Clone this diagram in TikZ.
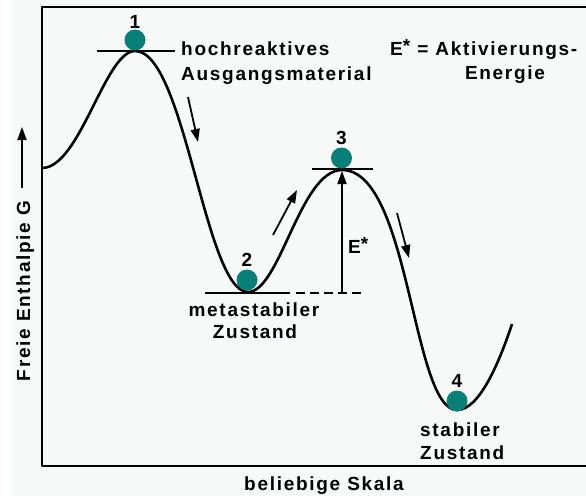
\documentclass[tikz,border=0pt]{standalone}
\usepackage{fontspec}
\setmainfont{Liberation Sans}[LetterSpace=9]
\usetikzlibrary{arrows.meta}
\definecolor{ballc}{RGB}{8,128,120}
\definecolor{bgc}{RGB}{248,249,249}
\begin{document}
\begin{tikzpicture}[x=1pt,y=-1pt, line join=round,
  lbl/.style={font=\fontsize{19}{25}\selectfont\bfseries, inner sep=0pt},
  axis/.style={line width=2.2pt},
  curve/.style={line width=2.6pt},
  level/.style={line width=2.2pt},
  flow/.style={line width=1.8pt, -{Triangle[length=13pt,width=9pt]}},
  ball/.style={circle, fill=ballc, minimum size=21pt, inner sep=0pt}]
\fill[white] (0,0) rectangle (586,496);
\fill[bgc] (12,0) rectangle (586,496);
\useasboundingbox (0,0) rectangle (586,496);
% axes
\draw[axis] (586,7) -- (42,7) -- (42,466) -- (586,466);
% energy curve
\draw[curve] (42,168) .. controls (80,168) and (105,51) .. (135,51)
  .. controls (185,51) and (205,292) .. (248,292)
  .. controls (280,292) and (300,170) .. (342,170)
  .. controls (410,170) and (412,410) .. (457,410)
  .. controls (480,410) and (500,360) .. (512,324);
% levels
\draw[level] (97,51) -- (175,51);
\draw[level] (205,293) -- (290,293);
\draw[level, dash pattern=on 9pt off 5pt] (296,293) -- (364,293);
\draw[level] (312,169) -- (373,169);
% balls
\node[ball] (b1) at (135,40) {};
\node[ball] (b2) at (247,280) {};
\node[ball] (b3) at (341.5,158) {};
\node[ball] (b4) at (457,401) {};
\node[lbl] (n1) at (135,21.5) {1};
\node[lbl] (n2) at (247,259.5) {2};
\node[lbl] (n3) at (341.5,137.5) {3};
\node[lbl] (n4) at (457,381) {4};
% texts
\node[lbl, anchor=base west] (t1a) at (181,55) {hochreaktives};
\node[lbl, anchor=base west] (t1b) at (181,80) {Ausgangsmaterial};
\node[lbl, anchor=base west] (ea) at (390,55) {E\raisebox{3pt}{*} = Aktivierungs-};
\node[lbl, anchor=base] (eb) at (505,79) {Energie};
\node[lbl, anchor=base] (t2a) at (254,316) {metastabiler};
\node[lbl, anchor=base] (t2b) at (255,338) {Zustand};
\node[lbl, anchor=base west] (t4a) at (420,436) {stabiler};
\node[lbl, anchor=base west] (t4b) at (420,459) {Zustand};
\node[lbl, anchor=base west] (es) at (348,253) {E\raisebox{3pt}{*}};
\node[lbl, anchor=base] (xl) at (324,490) {beliebige Skala};
\node[lbl, anchor=base, rotate=90] (yl) at (30,291) {Freie Enthalpie G};
% arrows
\coordinate (ya0) at (22,188); \coordinate (ya1) at (22,127);
\draw[flow] (ya0) -- (ya1);
\coordinate (a1s) at (188,97); \coordinate (a1e) at (198,142);
\draw[flow] (a1s) -- (a1e);
\coordinate (a2s) at (273,235); \coordinate (a2e) at (297,190);
\draw[flow] (a2s) -- (a2e);
\coordinate (a3s) at (397,213); \coordinate (a3e) at (409,258);
\draw[flow] (a3s) -- (a3e);
\coordinate (es0) at (342,292); \coordinate (es1) at (342,171);
\draw[flow] (es0) -- (es1);
\end{tikzpicture}
\end{document}
